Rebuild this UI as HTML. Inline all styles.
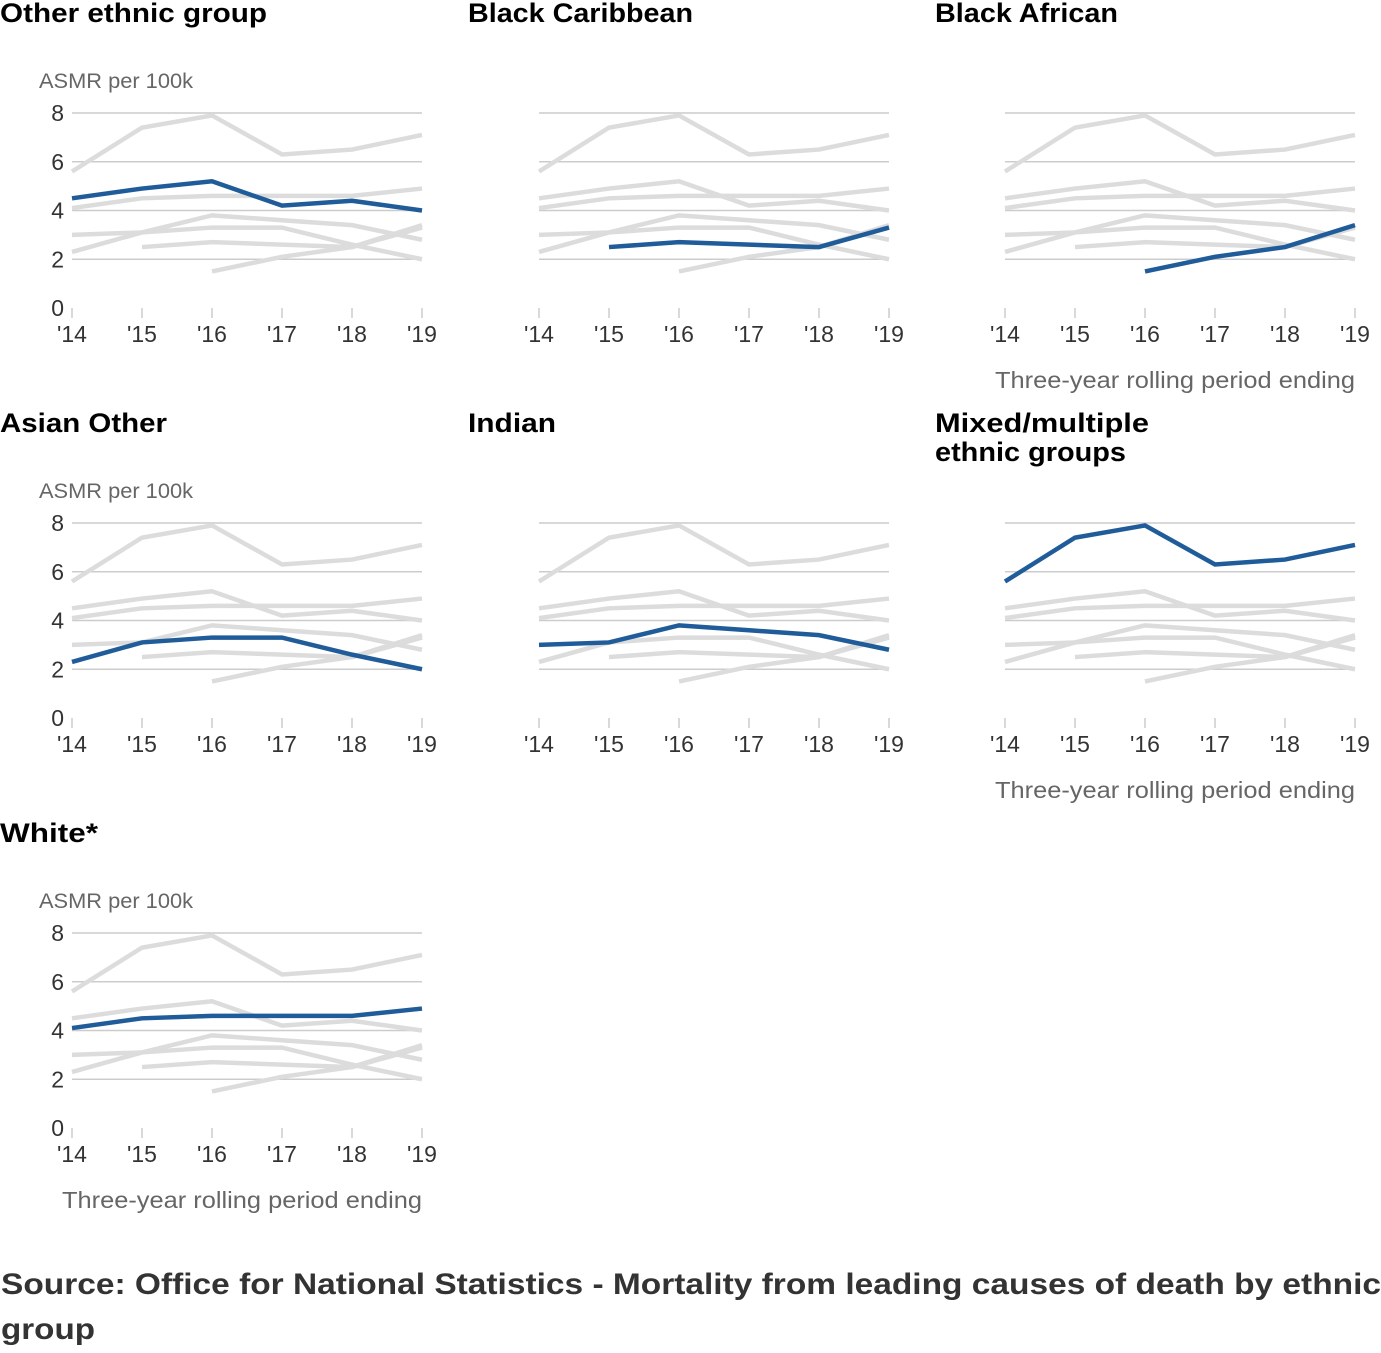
<!DOCTYPE html>
<html><head><meta charset="utf-8"><style>
body{margin:0;background:#fff;font-family:"Liberation Sans",sans-serif}
</style></head><body>
<svg id="c" width="1381" height="1348"></svg>
<script>
const groups=["Other ethnic group","Black Caribbean","Black African","Asian Other","Indian","Mixed/multiple|ethnic groups","White*"];
const titleLens=[[267],[225],[183],[167],[88],[214,191],[98]];
const years=["'14","'15","'16","'17","'18","'19"];
const yTicks=[0,2,4,6,8];
const sOther=[4.5,4.9,5.2,4.2,4.4,4.0];
const sBlackCar=[null,2.5,2.7,2.6,2.5,3.3];
const sBlackAfr=[null,null,1.5,2.1,2.5,3.4];
const sAsianOther=[2.3,3.1,3.3,3.3,2.6,2.0];
const sIndian=[3.0,3.1,3.8,3.6,3.4,2.8];
const sMixed=[5.6,7.4,7.9,6.3,6.5,7.1];
const sWhite=[4.1,4.5,4.6,4.6,4.6,4.9];
const series=[sOther,sBlackCar,sBlackAfr,sAsianOther,sIndian,sMixed,sWhite];
const NS="http://www.w3.org/2000/svg";
const svg=document.getElementById('c');
function mk(t,a,p){const e=document.createElementNS(NS,t);for(const k in a)e.setAttribute(k,a[k]);(p||svg).appendChild(e);return e;}
const colX=[72,539,1005],rowY=[0,410,820],W=350,H=195;
groups.forEach((g,i)=>{
 const col=i%3,row=Math.floor(i/3);
 const x0=colX[col],base=308+rowY[row];
 const gEl=mk('g',{});
 
 
 const xs=j=>x0+j*W/(years.length-1);
 const ys=v=>base-v/8*H;
 const lines=g.split('|');
 lines.forEach((l,k)=>{const t=mk('text',{x:col*467+(col?1:0),y:22+rowY[row]+k*29,'font-size':27,'font-weight':'bold',fill:'#000',textLength:titleLens[i][k],lengthAdjust:'spacingAndGlyphs'},gEl);t.textContent=l;
  });
 yTicks.forEach(v=>{
  if(v>0){const gl=mk('line',{x1:x0,x2:x0+W,y1:ys(v),y2:ys(v),stroke:'#ccc','stroke-width':1.5},gEl);
   }
  if(col===0){const t=mk('text',{x:64,y:ys(v)+8,'font-size':23,'text-anchor':'end',fill:'#333'},gEl);t.textContent=v;
   }
 });
 if(col===0){const t=mk('text',{x:39,y:88+rowY[row],'font-size':21,fill:'#666',textLength:154,lengthAdjust:'spacingAndGlyphs'},gEl);t.textContent='ASMR per 100k';
  }
 years.forEach((y,j)=>{
  const tk=mk('line',{x1:xs(j),x2:xs(j),y1:base,y2:base+10,stroke:'#ccc','stroke-width':1.5},gEl);
  
  const t=mk('text',{x:xs(j),y:base+34,'font-size':23,'text-anchor':'middle',fill:'#333'},gEl);t.textContent=y;
  
 });
 const path=s=>{let d='',pen=false;s.forEach((v,j)=>{if(v==null){pen=false;return;}d+=(pen?'L':'M')+xs(j)+','+ys(v);pen=true;});return d;};
 series.forEach((s,k)=>{if(k===i)return;
  const p=mk('path',{d:path(s),fill:'none',stroke:'#dcdcdc','stroke-width':4.5},gEl);
  });
 const p=mk('path',{d:path(series[i]),fill:'none',stroke:'#1f5c99','stroke-width':4.5},gEl);
 
 if(i===2||i===5||i===6){const t=mk('text',{x:x0+W-360,y:base+80,'font-size':23,fill:'#666',textLength:360,lengthAdjust:'spacingAndGlyphs'},gEl);t.textContent='Three-year rolling period ending';
  }
});
[['Source: Office for National Statistics - Mortality from leading causes of death by ethnic',1294,1380],['group',1339,94]].forEach(([s,y,L])=>{
 const t=mk('text',{x:1,y:y,'font-size':30,'font-weight':'bold',fill:'#333',textLength:L,lengthAdjust:'spacingAndGlyphs'});t.textContent=s;
 });
</script>
</body></html>
